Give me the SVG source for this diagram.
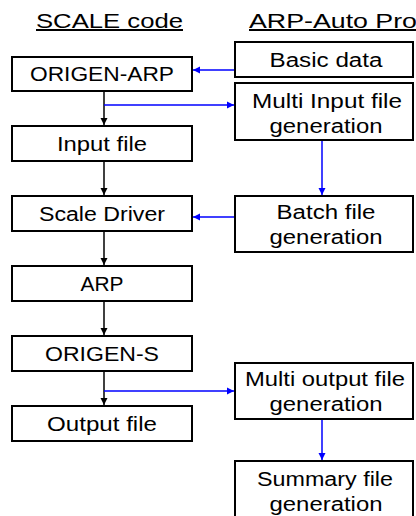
<svg xmlns="http://www.w3.org/2000/svg" width="416" height="516" viewBox="0 0 416 516">
<style>
.box{fill:#fff;stroke:#000;stroke-width:2}
.t{font-family:"Liberation Sans","DejaVu Sans",sans-serif;font-size:20px;fill:#000;text-anchor:middle}
.h{font-family:"Liberation Sans","DejaVu Sans",sans-serif;font-size:20px;fill:#000;text-decoration:underline}
.k{stroke:#000;stroke-width:1.5;fill:none}
.b{stroke:#0000ff;stroke-width:1.5;fill:none}
</style>
<defs>
<marker id="ak" markerWidth="8" markerHeight="8" refX="7" refY="4" orient="auto" markerUnits="userSpaceOnUse"><path d="M0,0.5 L7,4 L0,7.5 Z" fill="#000"/></marker>
<marker id="ab" markerWidth="8" markerHeight="8" refX="7" refY="4" orient="auto" markerUnits="userSpaceOnUse"><path d="M0,0.5 L7,4 L0,7.5 Z" fill="#0000ff"/></marker>
</defs>
<rect width="416" height="516" fill="#fff"/>
<g id="headers">
<text class="h" x="36" y="28" textLength="147" lengthAdjust="spacingAndGlyphs">SCALE code</text>
<text class="h" x="249" y="28" textLength="168" lengthAdjust="spacingAndGlyphs">ARP-Auto Pro</text>
</g>
<g id="connectors">
<line class="k" x1="104" y1="91" x2="104" y2="125" marker-end="url(#ak)"/>
<line class="k" x1="104" y1="161" x2="104" y2="195" marker-end="url(#ak)"/>
<line class="k" x1="104" y1="231" x2="104" y2="265" marker-end="url(#ak)"/>
<line class="k" x1="104" y1="301" x2="104" y2="335" marker-end="url(#ak)"/>
<line class="k" x1="104" y1="371" x2="104" y2="405" marker-end="url(#ak)"/>
<line class="b" x1="235" y1="70" x2="193" y2="70" marker-end="url(#ab)"/>
<line class="b" x1="104" y1="105" x2="234" y2="105" marker-end="url(#ab)"/>
<line class="b" x1="322" y1="140" x2="322" y2="195" marker-end="url(#ab)"/>
<line class="b" x1="235" y1="217" x2="193" y2="217" marker-end="url(#ab)"/>
<line class="b" x1="104" y1="391" x2="234" y2="391" marker-end="url(#ab)"/>
<line class="b" x1="322" y1="419" x2="322" y2="460" marker-end="url(#ab)"/>
</g>
<g id="origen-arp"><rect class="box" x="12" y="57" width="180" height="34"/><text class="t" x="102" y="81" textLength="144" lengthAdjust="spacingAndGlyphs">ORIGEN-ARP</text></g>
<g id="input-file"><rect class="box" x="12" y="126" width="180" height="35"/><text class="t" x="102" y="151" textLength="90" lengthAdjust="spacingAndGlyphs">Input file</text></g>
<g id="scale-driver"><rect class="box" x="12" y="196" width="180" height="35"/><text class="t" x="102" y="221" textLength="126" lengthAdjust="spacingAndGlyphs">Scale Driver</text></g>
<g id="arp"><rect class="box" x="12" y="266" width="180" height="35"/><text class="t" x="102" y="291" textLength="43" lengthAdjust="spacingAndGlyphs">ARP</text></g>
<g id="origen-s"><rect class="box" x="12" y="336" width="180" height="35"/><text class="t" x="102" y="361" textLength="114" lengthAdjust="spacingAndGlyphs">ORIGEN-S</text></g>
<g id="output-file"><rect class="box" x="12" y="406" width="180" height="35"/><text class="t" x="102" y="431" textLength="110" lengthAdjust="spacingAndGlyphs">Output file</text></g>
<g id="basic-data"><rect class="box" x="235" y="42" width="178" height="35"/><text class="t" x="326" y="67" textLength="113" lengthAdjust="spacingAndGlyphs">Basic data</text></g>
<g id="multi-input"><rect class="box" x="235" y="83" width="178" height="57"/><text class="t" x="327" y="108" textLength="150" lengthAdjust="spacingAndGlyphs">Multi Input file</text><text class="t" x="326" y="133" textLength="113" lengthAdjust="spacingAndGlyphs">generation</text></g>
<g id="batch-file"><rect class="box" x="235" y="196" width="178" height="56"/><text class="t" x="326" y="219" textLength="99" lengthAdjust="spacingAndGlyphs">Batch file</text><text class="t" x="326" y="244" textLength="113" lengthAdjust="spacingAndGlyphs">generation</text></g>
<g id="multi-output"><rect class="box" x="235" y="363" width="178" height="56"/><text class="t" x="325" y="386" textLength="160" lengthAdjust="spacingAndGlyphs">Multi output file</text><text class="t" x="326" y="411" textLength="113" lengthAdjust="spacingAndGlyphs">generation</text></g>
<g id="summary-file"><rect class="box" x="235" y="461" width="178" height="70"/><text class="t" x="325" y="486" textLength="136" lengthAdjust="spacingAndGlyphs">Summary file</text><text class="t" x="326" y="511" textLength="113" lengthAdjust="spacingAndGlyphs">generation</text></g>
</svg>
